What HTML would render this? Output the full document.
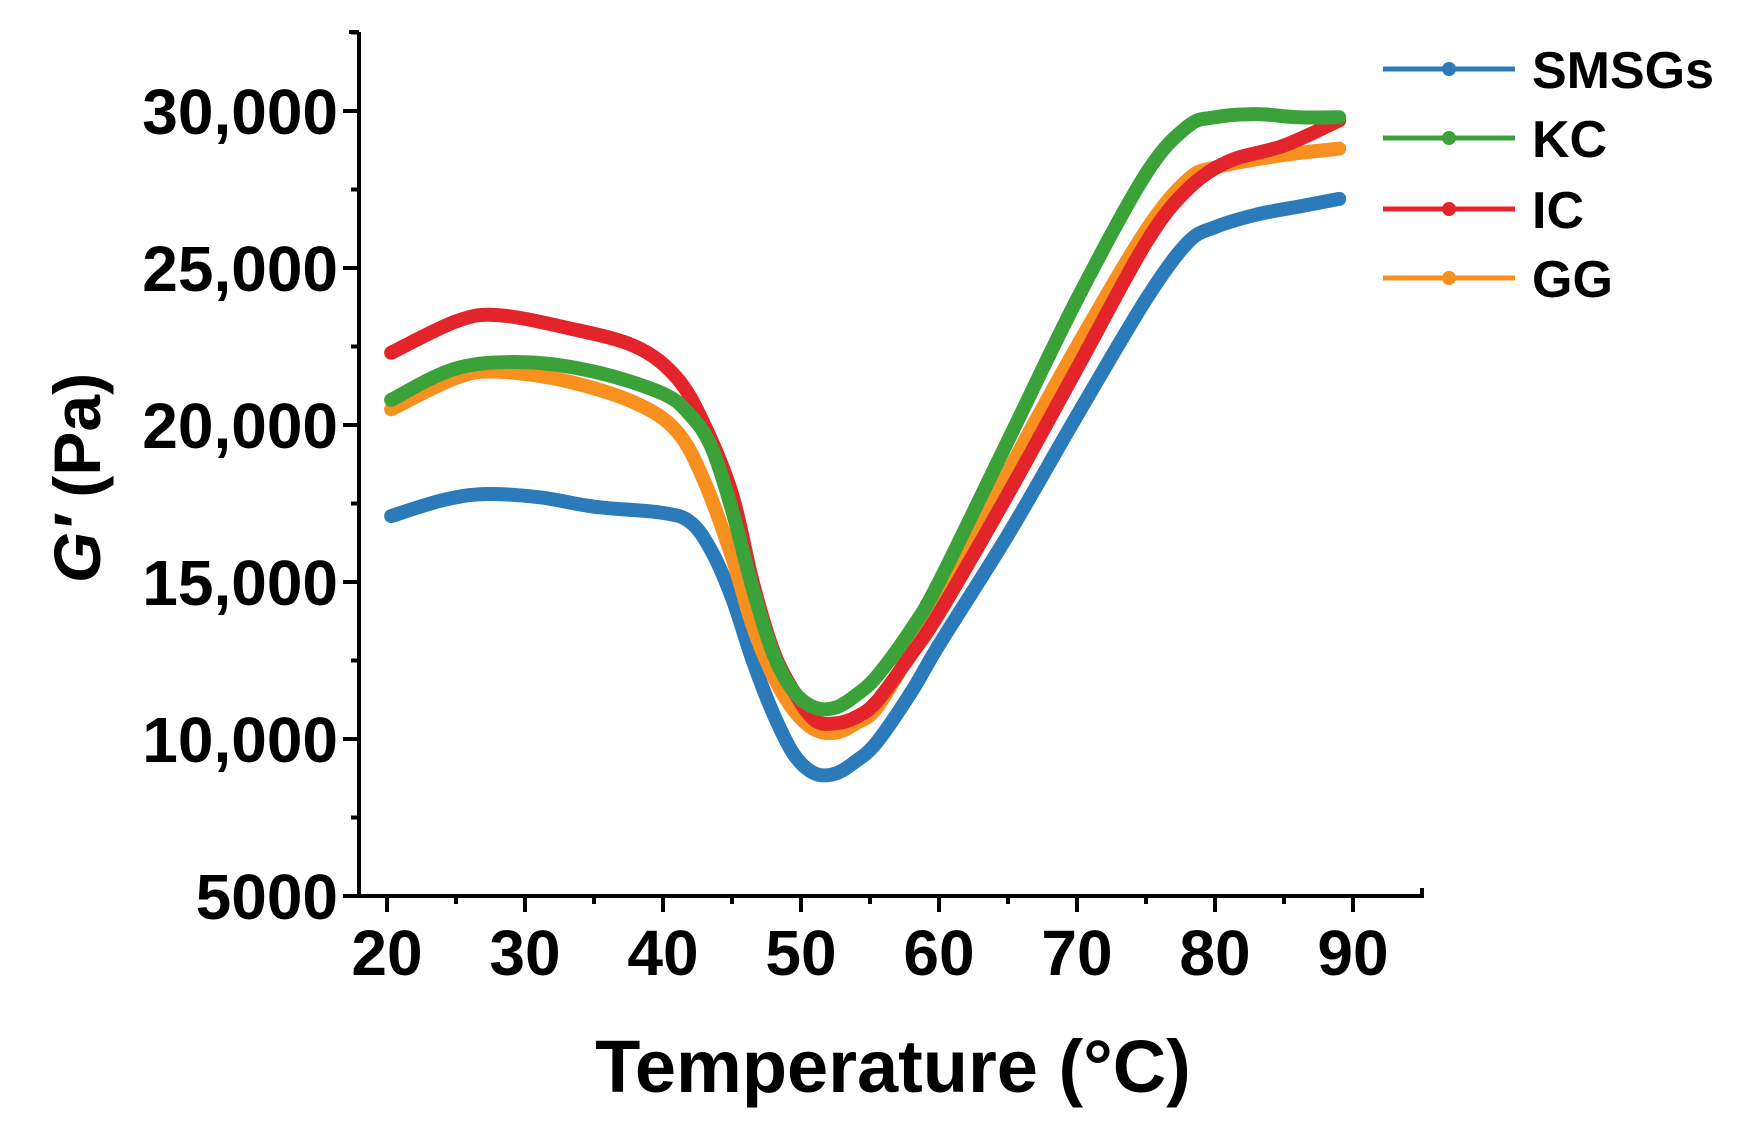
<!DOCTYPE html>
<html><head><meta charset="utf-8"><style>
html,body{margin:0;padding:0;background:#fff;}
svg{display:block;font-family:"Liberation Sans",Arial,sans-serif;font-weight:bold;}
</style></head><body>
<svg id="chart" width="1759" height="1132" viewBox="0 0 1759 1132" xmlns="http://www.w3.org/2000/svg">
<g id="plot"></g>
<g id="axes"></g>
<text x="893" y="1092" font-size="74" text-anchor="middle">Temperature (°C)</text>
<text transform="translate(100,478) rotate(-90)" font-size="66" text-anchor="middle"><tspan font-style="italic">G′</tspan> (Pa)</text>
<g id="legend"></g>
</svg>
<script>
const seriesNames = ["SMSGs","KC","IC","GG"];
const seriesColors = ["#2b7bba","#3ba23a","#e3242b","#f7901e"];
const tempSMSGs = [20.3,24,27,31,35,40,42,43.5,45,46.5,48,49.5,51,52.5,54,55.5,58,60,65,70,75,78,80,83,86,89];
const gSMSGs = [17100,17600,17800,17700,17400,17200,16900,16000,14500,12500,10800,9500,8900,8900,9300,9900,11500,13000,16500,20300,24000,25800,26300,26700,26950,27200];
const tempKC = [20.3,25,30,35,40,42,43.5,45,46.5,48,49.5,51,52.5,54,55.5,58,60,65,70,75,78,80,83,86,89];
const gKC = [20800,21800,22000,21700,21000,20300,19300,17300,14800,12700,11500,11000,11000,11400,12000,13500,15000,19500,24000,28000,29500,29800,29900,29800,29800];
const tempIC = [20.3,25,28,33,38,41,43,45,46.5,48,49.5,51,52.5,54,55.5,58,60,65,70,75,78,81,85,89];
const gIC = [22300,23300,23500,23100,22500,21500,20000,17800,15000,12800,11500,10600,10500,10700,11200,12700,14000,17800,21800,25800,27500,28400,28900,29700];
const tempGG = [20.3,25,28,33,38,41,43,45,46.5,48,49.5,51,52.5,54,55.5,58,60,65,70,75,78,80,85,89];
const gGG = [20500,21500,21700,21400,20700,19800,18200,15800,13600,12000,10900,10300,10200,10500,11000,12800,14200,18500,22500,26200,27800,28200,28600,28800];
const xTicks = [20,30,40,50,60,70,80,90];
const yTicks = [5000,10000,15000,20000,25000,30000];
const yTickLabels = ["5000","10,000","15,000","20,000","25,000","30,000"];

const NS="http://www.w3.org/2000/svg";
const X0=387, XS=13.8;
const Y0=896, YS=0.0314;
const xPx=t=>X0+(t-20)*XS;
const yPx=v=>Y0-(v-5000)*YS;
function mk(tag,attrs,parent){const e=document.createElementNS(NS,tag);for(const k in attrs)e.setAttribute(k,attrs[k]);parent.appendChild(e);return e;}

const axes=document.getElementById('axes');
const ax=mk('path',{d:`M359 32 L359 ${Y0} L1422 ${Y0} L1422 888 M359 32 L349 32`,stroke:'#000','stroke-width':4,fill:'none'},axes);


for(let t=20;t<=90;t+=5){
  const major=t%10===0;
  const tk=mk('line',{x1:xPx(t),x2:xPx(t),y1:Y0,y2:Y0+(major?16:8),stroke:'#000','stroke-width':4},axes);
  
  
}
xTicks.forEach(t=>{
  const tx=mk('text',{x:xPx(t),y:975,'font-size':64,'text-anchor':'middle'},axes);
  tx.textContent=t;
  
  
});
for(let v=5000;v<=32500;v+=2500){
  const major=v%5000===0;
  const tk=mk('line',{x1:359,x2:359-(major?16:8),y1:yPx(v),y2:yPx(v),stroke:'#000','stroke-width':4},axes);
  
  
}
yTicks.forEach((v,i)=>{
  const tx=mk('text',{x:338,y:yPx(v)+23,'font-size':64,'text-anchor':'end'},axes);
  tx.textContent=yTickLabels[i];
  
  
});

function smooth(pts){
  let d=`M${pts[0][0]} ${pts[0][1]}`;
  for(let i=0;i<pts.length-1;i++){
    const p0=pts[Math.max(i-1,0)],p1=pts[i],p2=pts[i+1],p3=pts[Math.min(i+2,pts.length-1)];
    const c1=[p1[0]+(p2[0]-p0[0])/6,p1[1]+(p2[1]-p0[1])/6];
    const c2=[p2[0]-(p3[0]-p1[0])/6,p2[1]-(p3[1]-p1[1])/6];
    d+=` C${c1[0]} ${c1[1]} ${c2[0]} ${c2[1]} ${p2[0]} ${p2[1]}`;
  }
  return d;
}
const plot=document.getElementById('plot');
const temps=[tempSMSGs,tempKC,tempIC,tempGG];
const vals=[gSMSGs,gKC,gIC,gGG];
const order=[0,3,2,1];
order.forEach(i=>{
  const pts=temps[i].map((t,j)=>[xPx(t),yPx(vals[i][j])]);
  const p=mk('path',{d:smooth(pts),stroke:seriesColors[i],'stroke-width':14,fill:'none','stroke-linecap':'round','stroke-linejoin':'round'},plot);
  
  
});

const legend=document.getElementById('legend');
const ly=[69,138,209,278];
seriesNames.forEach((n,i)=>{
  const l=mk('line',{x1:1383,x2:1515,y1:ly[i],y2:ly[i],stroke:seriesColors[i],'stroke-width':5},legend);
  
  
  const c=mk('circle',{cx:1449,cy:ly[i],r:7,fill:seriesColors[i]},legend);
  
  
  const t=mk('text',{x:1532,y:ly[i]+19,'font-size':52},legend);
  t.textContent=n;
  
  
});
</script>
</body></html>
